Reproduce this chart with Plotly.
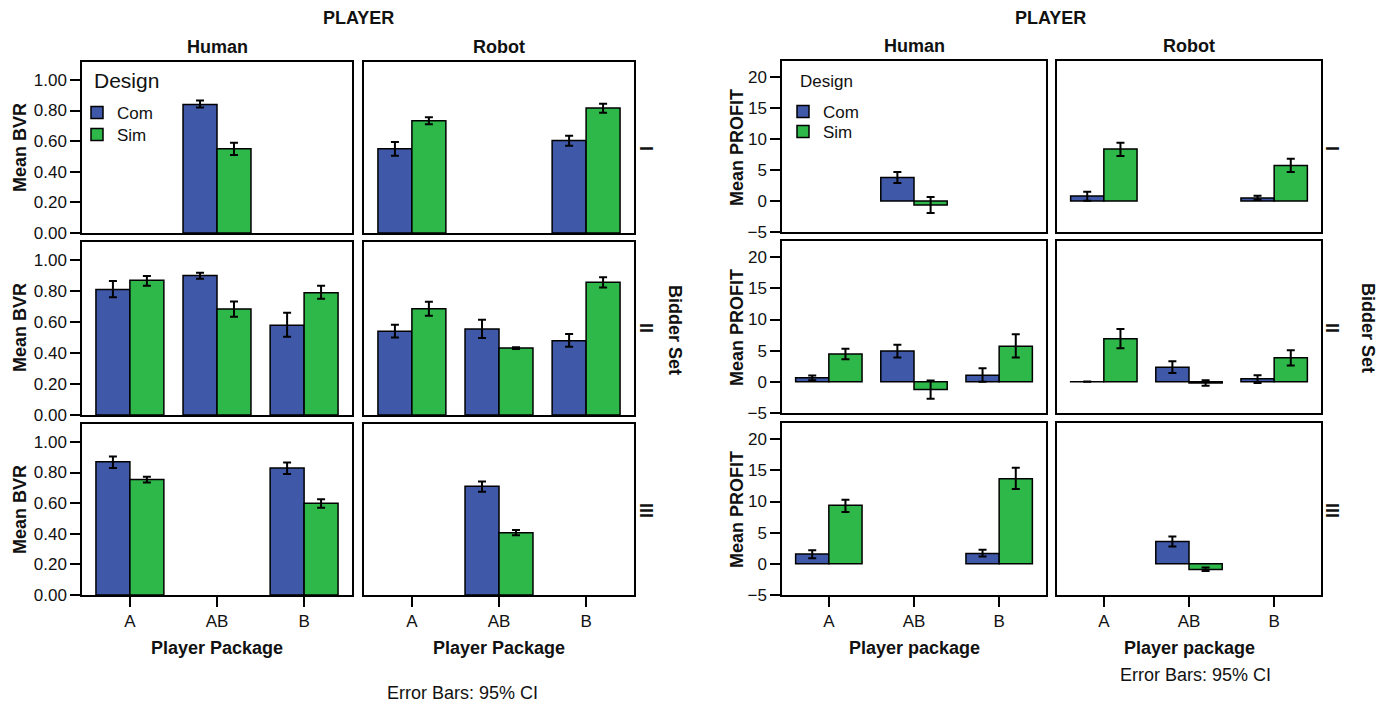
import plotly.graph_objects as go

RW, RH = 1385, 706          # reference picture size (layout coordinates below)
FW, FH = 1385, 716          # figure size (viewport compensation)

categories = ["A", "AB", "B"]
rows = ["I", "II", "III"]
players = ["Human", "Robot"]

# ---- Mean BVR (rows I, II, III; categories A, AB, B) ----
bvr_human_com = [[None, 0.84, None], [0.81, 0.90, 0.58], [0.87, None, 0.83]]
bvr_human_com_lo = [[None, 0.82, None], [0.76, 0.88, 0.505], [0.83, None, 0.79]]
bvr_human_com_hi = [[None, 0.865, None], [0.865, 0.918, 0.66], [0.905, None, 0.865]]
bvr_human_sim = [[None, 0.55, None], [0.87, 0.685, 0.79], [0.755, None, 0.60]]
bvr_human_sim_lo = [[None, 0.51, None], [0.835, 0.635, 0.75], [0.735, None, 0.57]]
bvr_human_sim_hi = [[None, 0.59, None], [0.897, 0.733, 0.834], [0.773, None, 0.625]]
bvr_robot_com = [[0.55, None, 0.605], [0.54, 0.555, 0.48], [None, 0.71, None]]
bvr_robot_com_lo = [[0.505, None, 0.57], [0.50, 0.497, 0.44], [None, 0.675, None]]
bvr_robot_com_hi = [[0.595, None, 0.636], [0.583, 0.615, 0.523], [None, 0.742, None]]
bvr_robot_sim = [[0.733, None, 0.817], [0.686, 0.432, 0.857], [None, 0.407, None]]
bvr_robot_sim_lo = [[0.71, None, 0.786], [0.641, 0.426, 0.824], [None, 0.39, None]]
bvr_robot_sim_hi = [[0.756, None, 0.845], [0.731, 0.438, 0.89], [None, 0.424, None]]

# ---- Mean PROFIT ----
pr_human_com = [[None, 3.8, None], [0.64, 4.93, 1.07], [1.56, None, 1.67]]
pr_human_com_lo = [[None, 2.9, None], [0.27, 3.9, 0.0], [0.91, None, 1.18]]
pr_human_com_hi = [[None, 4.7, None], [1.02, 5.94, 2.2], [2.2, None, 2.26]]
pr_human_sim = [[None, -0.65, None], [4.45, -1.23, 5.73], [9.4, None, 13.66]]
pr_human_sim_lo = [[None, -1.95, None], [3.64, -2.73, 3.9], [8.33, None, 12.0]]
pr_human_sim_hi = [[None, 0.65, None], [5.3, 0.22, 7.65], [10.3, None, 15.4]]
pr_robot_com = [[0.8, None, 0.48], [0.03, 2.36, 0.48], [None, 3.6, None]]
pr_robot_com_lo = [[0.05, None, 0.16], [0.0, 1.4, -0.2], [None, 2.8, None]]
pr_robot_com_hi = [[1.5, None, 0.86], [0.06, 3.3, 1.07], [None, 4.4, None]]
pr_robot_sim = [[8.4, None, 5.75], [6.9, -0.2, 3.85], [None, -0.9, None]]
pr_robot_sim_lo = [[7.26, None, 4.68], [5.4, -0.64, 2.63], [None, -1.13, None]]
pr_robot_sim_hi = [[9.4, None, 6.83], [8.46, 0.27, 5.08], [None, -0.6, None]]

bvr_ticks = [0.0, 0.2, 0.4, 0.6, 0.8, 1.0]
profit_ticks = [-5, 0, 5, 10, 15, 20]

COM_COLOR = "#3f58a8"
SIM_COLOR = "#2fb84a"
FONT = "Arial, Liberation Sans, Helvetica, sans-serif"


def X(px):
    return px / RW


def Y(py):
    return 1 - py / RH


charts = [
    dict(
        data={"Human": (bvr_human_com, bvr_human_com_lo, bvr_human_com_hi,
                        bvr_human_sim, bvr_human_sim_lo, bvr_human_sim_hi),
              "Robot": (bvr_robot_com, bvr_robot_com_lo, bvr_robot_com_hi,
                        bvr_robot_sim, bvr_robot_sim_lo, bvr_robot_sim_hi)},
        cols=[(82, 352), (364, 634)],
        rows=[(62, 233), (242, 415), (424, 595)],
        yrange=[0, 1.117], ticks=bvr_ticks, fmt=".2f",
        legends=("legend", "legend3"),
    ),
    dict(
        data={"Human": (pr_human_com, pr_human_com_lo, pr_human_com_hi,
                        pr_human_sim, pr_human_sim_lo, pr_human_sim_hi),
              "Robot": (pr_robot_com, pr_robot_com_lo, pr_robot_com_hi,
                        pr_robot_sim, pr_robot_sim_lo, pr_robot_sim_hi)},
        cols=[(782, 1046), (1057, 1321)],
        rows=[(61, 232), (241, 413), (423, 595)],
        yrange=[-5, 22.6], ticks=profit_ticks, fmt="d",
        legends=("legend2", "legend4"),
    ),
]


def err(mean, lo, hi):
    plus, minus = [], []
    for m, l, h in zip(mean, lo, hi):
        if m is None:
            plus.append(None)
            minus.append(None)
        else:
            plus.append(h - m)
            minus.append(m - l)
    return plus, minus


fig = go.Figure()
layout = {}
k = 0
for ci, ch in enumerate(charts):
    for r in range(3):
        for c, pl in enumerate(players):
            k += 1
            sfx = "" if k == 1 else str(k)
            com, com_lo, com_hi, sim, sim_lo, sim_hi = ch["data"][pl]
            for j, (name, vals, lo, hi, col) in enumerate([
                ("Com", com[r], com_lo[r], com_hi[r], COM_COLOR),
                ("Sim", sim[r], sim_lo[r], sim_hi[r], SIM_COLOR),
            ]):
                p, m = err(vals, lo, hi)
                fig.add_trace(go.Bar(
                    x=categories, y=vals, name=name,
                    marker=dict(color=col, line=dict(color="black", width=1.5)),
                    error_y=dict(type="data", symmetric=False, array=p, arrayminus=m,
                                 color="black", thickness=2, width=4),
                    xaxis="x" + sfx, yaxis="y" + sfx,
                    showlegend=(r == 0 and c == 0), legend=ch["legends"][j],
                ))
            x0, x1 = ch["cols"][c]
            y0, y1 = ch["rows"][r]
            bottom = (r == 2)
            layout["xaxis" + sfx] = dict(
                domain=[X(x0), X(x1)], anchor="y" + sfx,
                type="category", categoryorder="array", categoryarray=categories,
                range=[-0.55, 2.55], showline=True, mirror=True, linecolor="black",
                linewidth=1.5, showgrid=False, zeroline=False,
                ticks="outside" if bottom else "", ticklen=10, tickwidth=2,
                tickcolor="black", showticklabels=bottom,
                tickfont=dict(family=FONT, size=17, color="#111"),
            )
            layout["yaxis" + sfx] = dict(
                domain=[Y(y1), Y(y0)], anchor="x" + sfx,
                range=ch["yrange"], tickvals=ch["ticks"], tickformat=ch["fmt"],
                showline=True, mirror=True, linecolor="black", linewidth=1.5,
                showgrid=False, zeroline=False,
                ticks="outside" if c == 0 else "", ticklen=10, tickwidth=2,
                tickcolor="black", showticklabels=(c == 0),
                tickfont=dict(family=FONT, size=17, color="#111"),
            )

annotations = []


def ann(text, x, y, size, bold=False, angle=0, anchor="center"):
    t = "<b>%s</b>" % text if bold else text
    annotations.append(dict(text=t, x=X(x), y=Y(y), xref="paper", yref="paper",
                            showarrow=False, textangle=angle, xanchor=anchor,
                            yanchor="middle",
                            font=dict(family=FONT, size=size, color="#111")))


row_centers = [148, 328, 510]
# Left chart
ann("PLAYER", 358, 18, 18, True)
ann("Human", 217, 47, 18, True)
ann("Robot", 499, 47, 18, True)
for rc, rl in zip(row_centers, rows):
    ann(rl, 646, rc, 18, True, 90)
    ann("Mean BVR", 20, rc, 18, True, -90)
ann("Bidder Set", 675, 330, 18, True, 90)
ann("Player Package", 217, 648, 18, True)
ann("Player Package", 499, 648, 18, True)
ann("Error Bars: 95% CI", 462, 693, 18)
ann("Design", 92, 80, 21, anchor="left")
# Right chart
ann("PLAYER", 1050, 18, 18, True)
ann("Human", 914, 46, 18, True)
ann("Robot", 1189, 46, 18, True)
for rc, rl in zip(row_centers, rows):
    ann(rl, 1332, rc, 18, True, 90)
    ann("Mean PROFIT", 737, rc, 18, True, -90)
ann("Bidder Set", 1368, 328, 18, True, 90)
ann("Player package", 914, 648, 18, True)
ann("Player package", 1189, 648, 18, True)
ann("Error Bars: 95% CI", 1195, 675, 18)
ann("Design", 798, 82, 17, anchor="left")


def leg(x, ytop, size):
    return dict(x=X(x), y=Y(ytop), xanchor="left", yanchor="top",
                bgcolor="rgba(0,0,0,0)", font=dict(family=FONT, size=size),
                itemwidth=30)


layout.update(
    width=FW, height=FH, margin=dict(l=0, r=0, t=0, b=0),
    paper_bgcolor="white", plot_bgcolor="white",
    barmode="group", bargap=0.22, bargroupgap=0,
    annotations=annotations,
    font=dict(family=FONT, color="#111"),
    legend=leg(77, 95, 17),
    legend3=leg(77, 117, 17),
    legend2=leg(783, 94, 17),
    legend4=leg(783, 114, 17),
)
fig.update_layout(layout)
fig.write_html(
    "out.html",
    config={"displayModeBar": False},
    post_script="document.body.style.margin='0';document.body.style.overflow='hidden';",
)
